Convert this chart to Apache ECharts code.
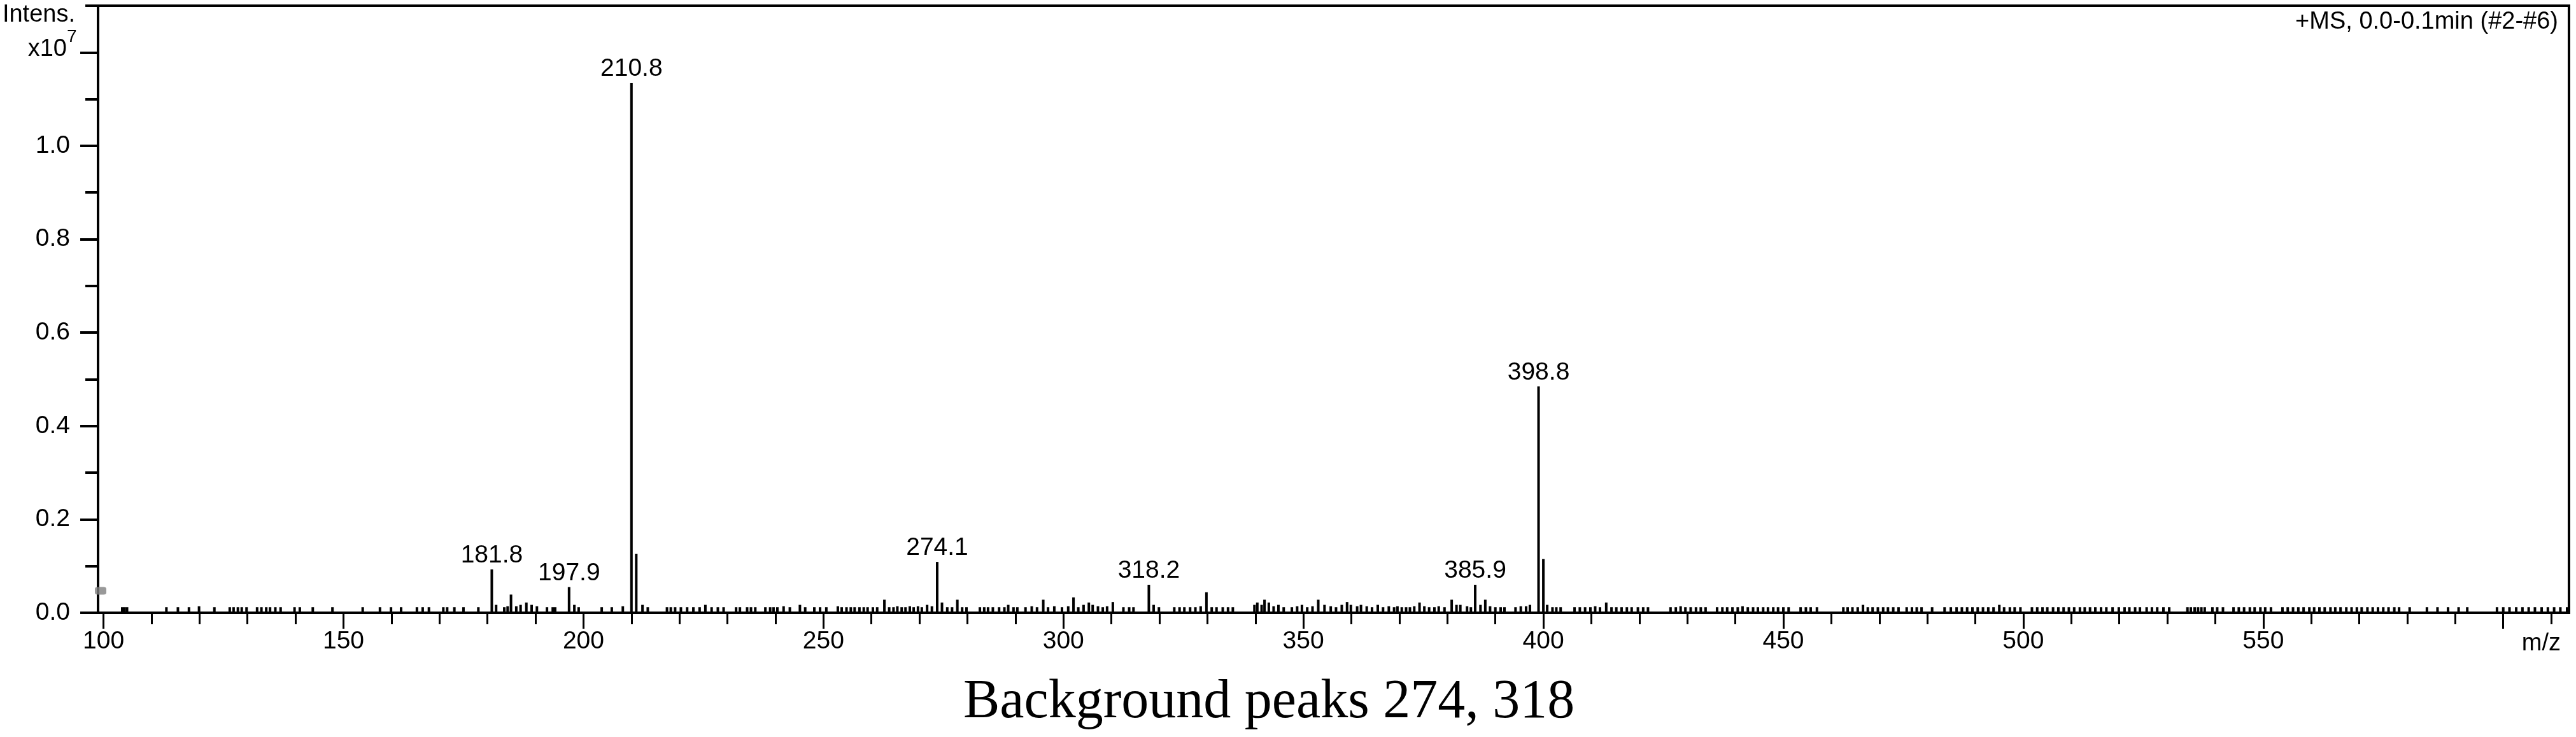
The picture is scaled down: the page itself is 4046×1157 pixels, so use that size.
<!DOCTYPE html>
<html>
<head>
<meta charset="utf-8">
<title>Background peaks 274, 318</title>
<script src="https://cdn.jsdelivr.net/npm/echarts@6/dist/echarts.min.js"></script>
<style>
  html, body { margin: 0; padding: 0; background: #fff; }
  #main { width: 4046px; height: 1157px; }
</style>
</head>
<body>
<div id="main"></div>
<script>
// axis ranges (intensity in units of 1e7)
const X_MIN = 98.86, X_MAX = 613.7;
const Y_MIN = 0, Y_MAX = 1.3;

const xMajorTicks = [100, 150, 200, 250, 300, 350, 400, 450, 500, 550, 600];
const xLabels = [100, 150, 200, 250, 300, 350, 400, 450, 500, 550];
const xMinorTicks = [110, 120, 130, 140, 160, 170, 180, 190, 210, 220, 230, 240, 260, 270, 280, 290,
  310, 320, 330, 340, 360, 370, 380, 390, 410, 420, 430, 440, 460, 470, 480, 490,
  510, 520, 530, 540, 560, 570, 580, 590, 610];
const yMajorTicks = [0, 0.2, 0.4, 0.6, 0.8, 1.0, 1.2];
const yLabels = [0, 0.2, 0.4, 0.6, 0.8, 1.0];
const yMinorTicks = [0.1, 0.3, 0.5, 0.7, 0.9, 1.1, 1.3];

// main peaks (position as drawn, intensity x1e7, label)
const peakMz = [180.9, 184.9, 197.0, 210.0, 211.0, 273.7, 317.8, 329.8, 385.8, 399.0, 400.0];
const peakInt = [0.093, 0.039, 0.055, 1.135, 0.126, 0.109, 0.060, 0.044, 0.060, 0.485, 0.115];
const peakLabels = ['181.8', '', '197.9', '210.8', '', '274.1', '318.2', '', '385.9', '398.8', ''];

// small background peaks [m/z, intensity x1e7]
const noisePeaks = [
  [103.9, .012], [104.4, .012], [104.9, .012], [113.1, .012], [115.5, .012], [117.8, .012], [119.9, .014],
  [123.1, .012], [126.3, .012], [127.1, .012], [128.0, .012], [128.8, .012], [129.8, .012],
  [132.0, .012], [132.9, .012], [133.9, .012], [134.7, .012], [135.8, .012], [136.9, .012],
  [139.8, .012], [140.9, .012], [143.6, .012], [147.7, .012], [154.0, .012],
  [157.6, .012], [159.9, .012], [162.0, .012], [165.3, .012], [166.5, .012], [167.8, .012],
  [170.8, .012], [171.6, .012], [173.1, .012], [175.0, .012], [178.1, .012], [181.8, .017],
  [183.5, .012], [184.2, .014], [186.0, .014], [186.9, .017], [188.1, .022], [189.2, .017], [190.3, .014],
  [192.4, .012], [193.6, .012], [194.1, .012], [198.1, .017], [199.0, .012],
  [203.8, .012], [205.9, .012], [208.2, .014], [212.3, .017], [213.4, .012],
  [217.4, .012], [218.2, .012], [219.1, .012], [220.3, .012], [221.6, .012], [222.9, .012],
  [224.2, .012], [225.4, .017], [226.7, .012], [228.0, .012], [229.2, .012],
  [231.8, .012], [232.6, .012], [234.1, .012], [234.9, .012], [235.8, .012],
  [237.9, .012], [238.9, .012], [239.6, .012], [240.4, .012], [241.7, .014], [243.0, .012],
  [245.1, .017], [246.2, .012], [248.1, .012], [249.3, .012], [250.6, .012],
  [253.0, .014], [253.8, .012], [254.8, .012], [255.7, .012], [256.5, .012], [257.5, .012],
  [258.4, .012], [259.2, .012], [260.3, .012], [261.2, .012], [262.7, .028],
  [263.7, .012], [264.6, .012], [265.4, .014], [266.3, .012], [267.1, .012], [268.0, .014],
  [268.8, .012], [269.7, .014], [270.5, .012], [271.6, .017], [272.6, .014],
  [274.7, .022], [275.8, .012], [276.8, .012], [277.9, .028], [278.9, .012], [279.8, .012],
  [282.6, .012], [283.5, .012], [284.3, .012], [285.3, .012], [286.6, .012], [287.7, .012],
  [288.5, .017], [289.6, .012], [290.4, .012],
  [292.1, .012], [293.4, .014], [294.5, .012], [295.8, .028], [296.8, .012], [298.1, .014],
  [299.7, .012], [301.0, .014], [302.1, .033], [303.1, .012], [304.2, .017], [305.3, .022],
  [306.1, .017], [307.2, .014], [308.2, .012], [309.1, .014], [310.3, .023],
  [312.5, .012], [313.7, .012], [314.6, .012], [318.8, .017], [319.9, .012],
  [323.1, .012], [324.2, .012], [325.2, .012], [326.4, .012], [327.5, .012], [328.6, .014],
  [330.9, .012], [331.9, .012], [333.2, .012], [334.3, .012], [335.3, .012],
  [339.8, .017], [340.4, .022], [341.3, .017], [341.9, .028], [342.8, .022], [343.8, .014],
  [344.8, .017], [345.9, .012], [347.6, .012], [348.7, .014], [349.7, .017], [350.8, .012],
  [351.9, .014], [353.1, .028], [354.4, .017], [355.7, .014], [356.8, .012], [358.0, .017],
  [359.1, .023], [359.9, .017], [361.2, .014], [362.0, .017],
  [363.2, .014], [364.3, .012], [365.5, .017], [366.6, .012], [367.8, .014], [368.9, .012], [369.6, .014],
  [370.5, .012], [371.4, .012], [372.2, .012], [373.1, .014], [374.2, .022], [375.2, .014],
  [376.2, .012], [377.3, .012], [378.2, .014], [379.4, .012], [380.9, .028],
  [381.9, .017], [382.7, .017], [384.1, .014], [384.9, .012], [386.9, .017], [387.9, .028],
  [388.9, .014], [390.0, .012], [391.1, .012], [391.9, .012],
  [394.2, .012], [395.3, .014], [396.4, .014], [397.2, .017],
  [400.8, .017], [401.9, .012], [402.7, .012], [403.6, .012],
  [406.5, .012], [407.6, .012], [408.7, .012], [409.8, .012], [410.8, .014], [411.8, .012],
  [413.1, .022], [414.2, .012], [415.2, .012], [416.3, .012], [417.4, .012], [418.4, .012],
  [419.7, .012], [420.8, .012], [421.8, .012],
  [426.5, .012], [427.6, .012], [428.6, .014], [429.6, .012], [430.7, .012], [431.8, .012],
  [432.8, .012], [433.8, .012],
  [436.2, .012], [437.3, .012], [438.3, .012], [439.4, .012], [440.5, .012], [441.5, .014],
  [442.6, .012], [443.7, .012], [444.7, .012], [445.8, .012], [446.8, .012], [447.9, .012],
  [448.9, .012], [450.0, .012], [451.1, .012],
  [453.6, .012], [454.7, .012], [455.7, .012], [457.0, .012],
  [462.5, .012], [463.4, .012], [464.4, .012], [465.5, .012], [466.6, .017], [467.6, .012],
  [468.6, .012], [469.7, .012], [470.8, .012], [471.8, .012], [472.9, .012], [474.0, .012],
  [475.7, .012], [476.8, .012], [477.8, .012], [478.8, .012],
  [481.0, .012], [483.6, .012], [484.9, .012], [486.1, .012], [487.2, .012], [488.3, .012],
  [489.4, .012], [490.5, .012], [491.6, .012], [492.7, .012], [493.8, .012], [495.0, .017],
  [496.0, .012], [497.2, .012], [498.2, .012], [499.4, .012],
  [501.8, .012], [502.9, .012], [504.0, .012], [505.0, .012], [506.2, .012], [507.3, .012],
  [508.4, .012], [509.5, .012], [510.6, .012], [511.8, .012], [512.8, .012], [513.9, .012],
  [515.0, .012], [516.2, .012], [517.3, .012], [518.6, .012], [519.9, .012], [521.1, .012],
  [522.1, .012], [523.3, .012], [524.3, .012], [525.7, .012], [526.8, .012], [527.9, .012],
  [529.2, .012], [530.4, .012],
  [534.2, .012], [534.9, .012], [535.7, .012], [536.4, .012], [537.1, .012], [537.8, .012],
  [539.4, .012], [540.4, .012], [541.6, .012], [543.8, .012], [544.9, .012], [546.0, .012],
  [547.2, .012], [548.2, .012], [549.4, .012], [550.4, .012], [551.6, .012],
  [554.0, .012], [555.1, .012], [556.2, .012], [557.3, .012], [558.4, .012], [559.6, .012],
  [560.6, .012], [561.7, .012], [562.8, .012], [564.0, .012], [565.0, .012], [566.1, .012],
  [567.3, .012], [568.4, .012], [569.5, .012], [570.5, .012], [571.7, .012], [572.8, .012],
  [573.9, .012], [575.0, .012], [576.1, .012], [577.3, .012], [578.3, .012], [580.5, .012],
  [584.1, .012], [586.3, .012], [588.5, .012], [590.7, .012], [592.5, .012],
  [598.7, .012], [600.0, .012], [601.3, .012], [602.7, .012], [604.0, .012], [605.3, .012],
  [606.6, .012], [608.0, .012], [609.3, .012], [610.6, .012], [611.9, .012], [613.3, .012]
];

// grey threshold marker on the intensity axis
const thresholdMarker = [99.39, 0.047];

const SANS = '"Liberation Sans", Arial, sans-serif';
const SERIF = '"Liberation Serif", "Times New Roman", serif';

const barData = [];
for (let i = 0; i < noisePeaks.length; i++) {
  barData.push({value: noisePeaks[i], name: ''});
}
for (let i = 0; i < peakMz.length; i++) {
  barData.push({
    value: [peakMz[i], peakInt[i]],
    name: peakLabels[i],
    label: {show: peakLabels[i] !== ''}
  });
}

const myChart = echarts.init(document.getElementById('main'));

const option = {
  animation: false,
  backgroundColor: '#fff',
  grid: {
    left: 154, right: 11, top: 9, bottom: 195,
    show: true, borderColor: '#000', borderWidth: 4
  },
  xAxis: [
    {
      type: 'value', min: X_MIN, max: X_MAX, position: 'bottom',
      axisLine: {show: true, onZero: false, lineStyle: {color: '#000', width: 4}},
      axisTick: {show: true, customValues: xMajorTicks, length: 25, lineStyle: {color: '#000', width: 3}},
      axisLabel: {
        show: true, customValues: xLabels, margin: 26,
        fontSize: 39, fontFamily: SANS, color: '#000'
      },
      splitLine: {show: false}
    },
    {
      type: 'value', min: X_MIN, max: X_MAX, position: 'bottom',
      axisLine: {show: false, onZero: false},
      axisTick: {show: true, customValues: xMinorTicks, length: 18, lineStyle: {color: '#000', width: 3}},
      axisLabel: {show: false},
      splitLine: {show: false}
    }
  ],
  yAxis: [
    {
      type: 'value', min: Y_MIN, max: Y_MAX, position: 'left',
      axisLine: {show: true, onZero: false, lineStyle: {color: '#000', width: 4}},
      axisTick: {show: true, customValues: yMajorTicks, length: 28, lineStyle: {color: '#000', width: 4}},
      axisLabel: {
        show: true, customValues: yLabels, margin: 44,
        fontSize: 39, fontFamily: SANS, color: '#000',
        formatter: function (v) { return v.toFixed(1); }
      },
      splitLine: {show: false}
    },
    {
      type: 'value', min: Y_MIN, max: Y_MAX, position: 'left',
      axisLine: {show: false, onZero: false},
      axisTick: {show: true, customValues: yMinorTicks, length: 20, lineStyle: {color: '#000', width: 4}},
      axisLabel: {show: false},
      splitLine: {show: false}
    }
  ],
  series: [
    {
      name: 'spectrum',
      type: 'bar',
      xAxisIndex: 0,
      yAxisIndex: 0,
      barWidth: 4,
      data: barData,
      itemStyle: {color: '#000'},
      label: {
        show: false, position: 'top', distance: 2,
        formatter: function (p) { return p.name; },
        fontSize: 39, fontFamily: SANS, color: '#000'
      },
      emphasis: {disabled: true}
    },
    {
      name: 'threshold',
      type: 'scatter',
      xAxisIndex: 0,
      yAxisIndex: 0,
      symbol: 'roundRect',
      symbolSize: [18, 12],
      itemStyle: {color: '#808080'},
      data: [thresholdMarker],
      clip: false,
      z: 10,
      emphasis: {disabled: true}
    }
  ],
  graphic: [
    {type: 'text', x: 118, y: 24, style: {text: 'Intens.', font: '38px ' + SANS, fill: '#000', align: 'right', verticalAlign: 'middle', textAlign: 'right', textVerticalAlign: 'middle'}},
    {type: 'text', x: 105, y: 78, style: {text: 'x10', font: '38px ' + SANS, fill: '#000', align: 'right', verticalAlign: 'middle', textAlign: 'right', textVerticalAlign: 'middle'}},
    {type: 'text', x: 105, y: 58, style: {text: '7', font: '28px ' + SANS, fill: '#000', align: 'left', verticalAlign: 'middle', textAlign: 'left', textVerticalAlign: 'middle'}},
    {type: 'text', x: 4018, y: 35, style: {text: '+MS, 0.0-0.1min (#2-#6)', font: '38px ' + SANS, fill: '#000', align: 'right', verticalAlign: 'middle', textAlign: 'right', textVerticalAlign: 'middle'}},
    {type: 'text', x: 4022, y: 1011, style: {text: 'm/z', font: '38px ' + SANS, fill: '#000', align: 'right', verticalAlign: 'middle', textAlign: 'right', textVerticalAlign: 'middle'}},
    {type: 'text', x: 1513, y: 1103, style: {text: 'Background peaks 274, 318', font: '86px ' + SERIF, fill: '#000', align: 'left', verticalAlign: 'middle', textAlign: 'left', textVerticalAlign: 'middle'}}
  ]
};

myChart.setOption(option);
window.onresize = function () {
  myChart.resize();
};
</script>
</body>
</html>
